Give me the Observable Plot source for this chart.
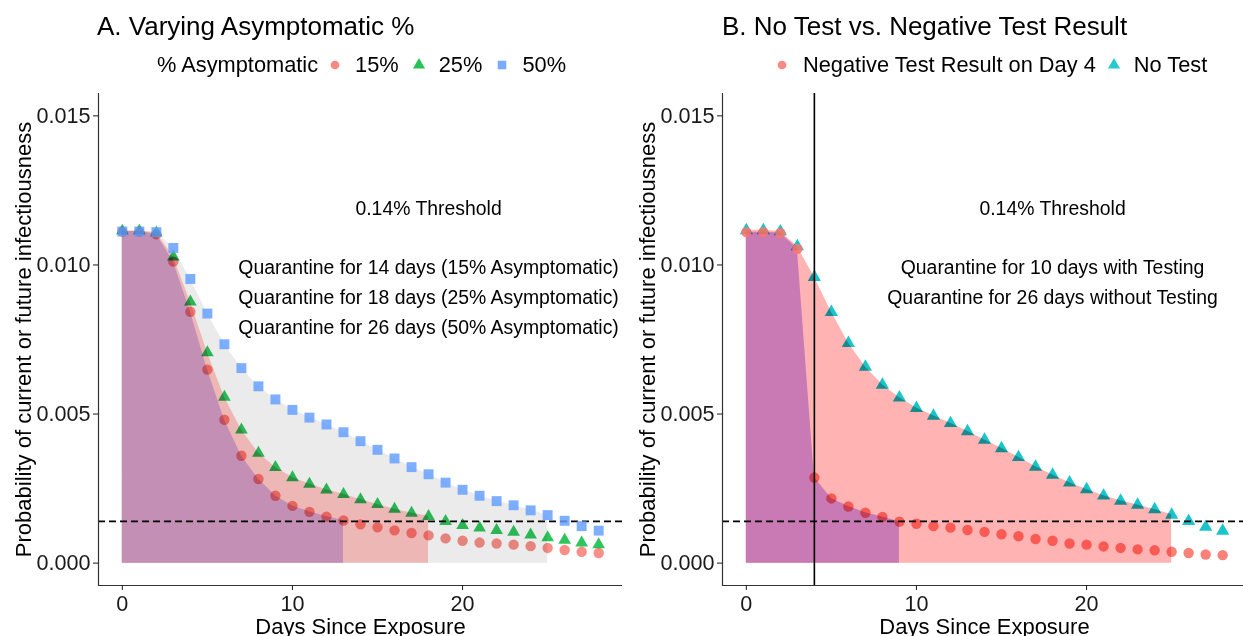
<!DOCTYPE html>
<html>
<head>
<meta charset="utf-8">
<script src="https://cdn.jsdelivr.net/npm/d3@7"></script>
<script src="https://cdn.jsdelivr.net/npm/@observablehq/plot@0.6"></script>
<style>
  html, body { margin: 0; padding: 0; background: #fff; }
  body { width: 1243px; height: 636px; overflow: hidden; position: relative;
         font-family: "Liberation Sans", Arial, sans-serif; color: #000; }
  .title { position: absolute; font-size: 26px; line-height: 1; white-space: nowrap; }
  .legend { position: absolute; display: flex; align-items: center; font-size: 21.8px;
            line-height: 1; white-space: nowrap; }
  .legend svg { display: block; }
  .panel { position: absolute; top: 80px; width: 625px; height: 556px; }
  .panel svg { max-width: none !important; }
</style>
</head>
<body>
<div class="title" style="left:97px; top:13px;">A. Varying Asymptomatic %</div>
<div class="title" style="left:722px; top:13px;">B. No Test vs. Negative Test Result</div>
<div id="legA" class="legend" style="left:157px; top:54px;"></div>
<div id="legB" class="legend" style="left:775px; top:54px;"></div>
<div id="panelA" class="panel" style="left:0px;"></div>
<div id="panelB" class="panel" style="left:624px;"></div>
<script>
// ---------------- data ----------------
const days = [0,1,2,3,4,5,6,7,8,9,10,11,12,13,14,15,16,17,18,19,20,21,22,23,24,25,26,27,28];

// Panel A: % asymptomatic
const asym15 = [0.01112,0.01112,0.01103,0.01011,0.00843,0.00649,0.00481,0.00360,0.00282,0.00226,0.00192,0.00172,0.00156,0.00143,0.00130,0.00120,0.00110,0.00101,0.00093,0.00083,0.00075,0.00069,0.00066,0.00062,0.00057,0.00051,0.00044,0.00038,0.00034];
const asym25 = [0.01114,0.01114,0.01108,0.01027,0.00876,0.00706,0.00557,0.00447,0.00369,0.00321,0.00287,0.00265,0.00246,0.00231,0.00213,0.00197,0.00181,0.00168,0.00157,0.00140,0.00127,0.00118,0.00110,0.00104,0.00095,0.00086,0.00077,0.00068,0.00062];
const asym50 = [0.01112,0.01112,0.01110,0.01057,0.00953,0.00837,0.00734,0.00654,0.00593,0.00549,0.00514,0.00488,0.00465,0.00439,0.00409,0.00380,0.00351,0.00322,0.00298,0.00270,0.00246,0.00226,0.00208,0.00194,0.00177,0.00161,0.00142,0.00124,0.00109];
const seriesA = ["15%", "25%", "50%"];
const quarantineEndA = [13, 18, 25];

// Panel B: test vs no test
const negTest = [0.01110,0.01110,0.01107,0.01054,0.00287,0.00217,0.00190,0.00169,0.00155,0.00139,0.00132,0.00124,0.00119,0.00111,0.00105,0.00097,0.00090,0.00081,0.00075,0.00066,0.00062,0.00056,0.00051,0.00046,0.00043,0.00038,0.00034,0.00029,0.00027];
const noTest  = [0.01116,0.01116,0.01112,0.01062,0.00959,0.00842,0.00738,0.00658,0.00598,0.00555,0.00520,0.00494,0.00469,0.00442,0.00413,0.00385,0.00355,0.00323,0.00296,0.00270,0.00247,0.00226,0.00209,0.00195,0.00180,0.00162,0.00141,0.00121,0.00108];
const seriesB = ["Negative Test Result on Day 4", "No Test"];
const quarantineEndB = [9, 25];
const testDay = [4];

const threshold = [0.0014];
const xTicks = [0, 10, 20];
const yTicks = [0, 0.005, 0.010, 0.015];

// annotations (data coordinates)
const notesA = ["0.14% Threshold",
  "Quarantine for 14 days (15% Asymptomatic)",
  "Quarantine for 18 days (25% Asymptomatic)",
  "Quarantine for 26 days (50% Asymptomatic)"];
const notesAx = [18, 18, 18, 18];
const notesAy = [0.0119, 0.0099, 0.0089, 0.0079];
const notesB = ["0.14% Threshold",
  "Quarantine for 10 days with Testing",
  "Quarantine for 26 days without Testing"];
const notesBx = [18, 18, 18];
const notesBy = [0.0119, 0.0099, 0.0089];

const xTitle = "Days Since Exposure";
const yTitle = "Probability of current or future infectiousness";

// ---------------- styling ----------------
const FONT = '"Liberation Sans", Arial, sans-serif';
const colA = ["#F8766D", "#00BA38", "#619CFF"];
const symA = ["circle", "triangle", "square"];
const rA = [5.2, 4.7, 5.6];
const blendA = ["multiply", "multiply", "normal"];
const fillA = ["#C48FB5", "#EDB7B5", "#EBEBEB"];
const colB = ["#F8766D", "#00BFC4"];
const symB = ["circle", "triangle"];
const rB = [5.2, 4.9];
const fillB = ["#C97AB4", "#FFB3B3"];

const rowsA = days.map((d, i) => ({day: d, v15: asym15[i], v25: asym25[i], v50: asym50[i]}));
const rowsB = days.map((d, i) => ({day: d, neg: negTest[i], none: noTest[i]}));

function frameParts() {
  return [
    Plot.ruleX([-1.4], {stroke: "#333", strokeWidth: 1.2}),
    Plot.ruleY([-0.00075], {stroke: "#333", strokeWidth: 1.2}),
    Plot.axisX(xTicks, {tickSize: 5, tickPadding: 5, fontSize: 21.6, color: "#1a1a1a", label: null}),
    Plot.axisY(yTicks, {tickSize: 5, tickPadding: 3, fontSize: 21.6, color: "#1a1a1a",
                        tickFormat: d3.format(".3f"), label: null}),
    Plot.text([xTitle], {text: d => d, frameAnchor: "bottom", lineAnchor: "middle", textAnchor: "middle",
                         dy: 41, fontSize: 22, fill: "#000"}),
    Plot.text([yTitle], {text: d => d, frameAnchor: "left", lineAnchor: "middle", textAnchor: "middle",
                         rotate: -90, dx: -75, fontSize: 22, fill: "#000"})
  ];
}

function base(marks) {
  return Plot.plot({
    width: 625, height: 556,
    marginLeft: 98, marginRight: 3, marginTop: 13, marginBottom: 51,
    x: {domain: [-1.4, 29.4]},
    y: {domain: [-0.00075, 0.01575]},
    style: {fontFamily: FONT, background: "transparent", overflow: "visible", maxWidth: "none"},
    marks
  });
}

const keysA = ["v15", "v25", "v50"];
const plotA = base([
  // areas (largest first)
  ...[2, 1, 0].map(i => Plot.areaY(rowsA.filter(d => d.day <= quarantineEndA[i]),
      {x: "day", y: keysA[i], fill: fillA[i]})),
  Plot.ruleY(threshold, {stroke: "#000", strokeWidth: 1.6, strokeDasharray: "7,4"}),
  ...[0, 1, 2].map(i => Plot.dot(rowsA, {x: "day", y: keysA[i], symbol: symA[i], r: rA[i],
      fill: colA[i], stroke: "none", fillOpacity: 0.82, mixBlendMode: blendA[i]})),
  Plot.text(notesA, {text: d => d, x: (d, i) => notesAx[i], y: (d, i) => notesAy[i], fontSize: 19.4, fill: "#000"}),
  ...frameParts()
]);
document.getElementById("panelA").append(plotA);

const keysB = ["neg", "none"];
const plotB = base([
  ...[1, 0].map(i => Plot.areaY(rowsB.filter(d => d.day <= quarantineEndB[i]),
      {x: "day", y: keysB[i], fill: fillB[i]})),
  Plot.ruleY(threshold, {stroke: "#000", strokeWidth: 1.6, strokeDasharray: "7,4"}),
  Plot.dot(rowsB, {x: "day", y: "none", symbol: symB[1], r: rB[1],
      fill: colB[1], stroke: "none", fillOpacity: 0.9, mixBlendMode: "multiply"}),
  // before the test day the two curves coincide: draw those on top normally
  Plot.dot(rowsB.filter(d => d.day < testDay[0]), {x: "day", y: "neg", symbol: symB[0], r: rB[0],
      fill: colB[0], stroke: "none", fillOpacity: 0.88}),
  Plot.dot(rowsB.filter(d => d.day >= testDay[0]), {x: "day", y: "neg", symbol: symB[0], r: rB[0],
      fill: colB[0], stroke: "none", fillOpacity: 0.92, mixBlendMode: "multiply"}),
  Plot.ruleX(testDay, {stroke: "#000", strokeWidth: 1.6}),
  Plot.text(notesB, {text: d => d, x: (d, i) => notesBx[i], y: (d, i) => notesBy[i], fontSize: 19.4, fill: "#000"}),
  ...frameParts()
]);
document.getElementById("panelB").append(plotB);

// ---------------- legends ----------------
function symbolSvg(type, color, size) {
  const path = d3.symbol(type === "circle" ? d3.symbolCircle : type === "triangle" ? d3.symbolTriangle : d3.symbolSquare, size)();
  const ns = "http://www.w3.org/2000/svg";
  const svg = document.createElementNS(ns, "svg");
  svg.setAttribute("width", 14); svg.setAttribute("height", 16);
  svg.setAttribute("viewBox", "-7 -8 14 16");
  const p = document.createElementNS(ns, "path");
  p.setAttribute("d", path); p.setAttribute("fill", color); p.setAttribute("fill-opacity", 0.85);
  svg.append(p);
  return svg;
}
function span(text) {
  const el = document.createElement("span");
  el.textContent = text;
  return el;
}
const legA = document.getElementById("legA");
legA.append(span("% Asymptomatic"));
seriesA.forEach((s, i) => {
  const sv = symbolSvg(symA[i], colA[i], Math.PI * 4.6 * 4.6 * (i === 1 ? 0.95 : i === 2 ? 1.1 : 0.9));
  sv.style.marginLeft = (i === 0 ? 10 : 13) + "px";
  sv.style.marginRight = "13px";
  legA.append(sv, span(s));
});
const legB = document.getElementById("legB");
seriesB.forEach((s, i) => {
  const sv = symbolSvg(symB[i], colB[i], Math.PI * 4.6 * 4.6 * (i === 0 ? 0.9 : 0.95));
  sv.style.marginLeft = (i === 0 ? 0 : 11) + "px";
  sv.style.marginRight = (i === 0 ? 14 : 13) + "px";
  legB.append(sv, span(s));
});
</script>
</body>
</html>
